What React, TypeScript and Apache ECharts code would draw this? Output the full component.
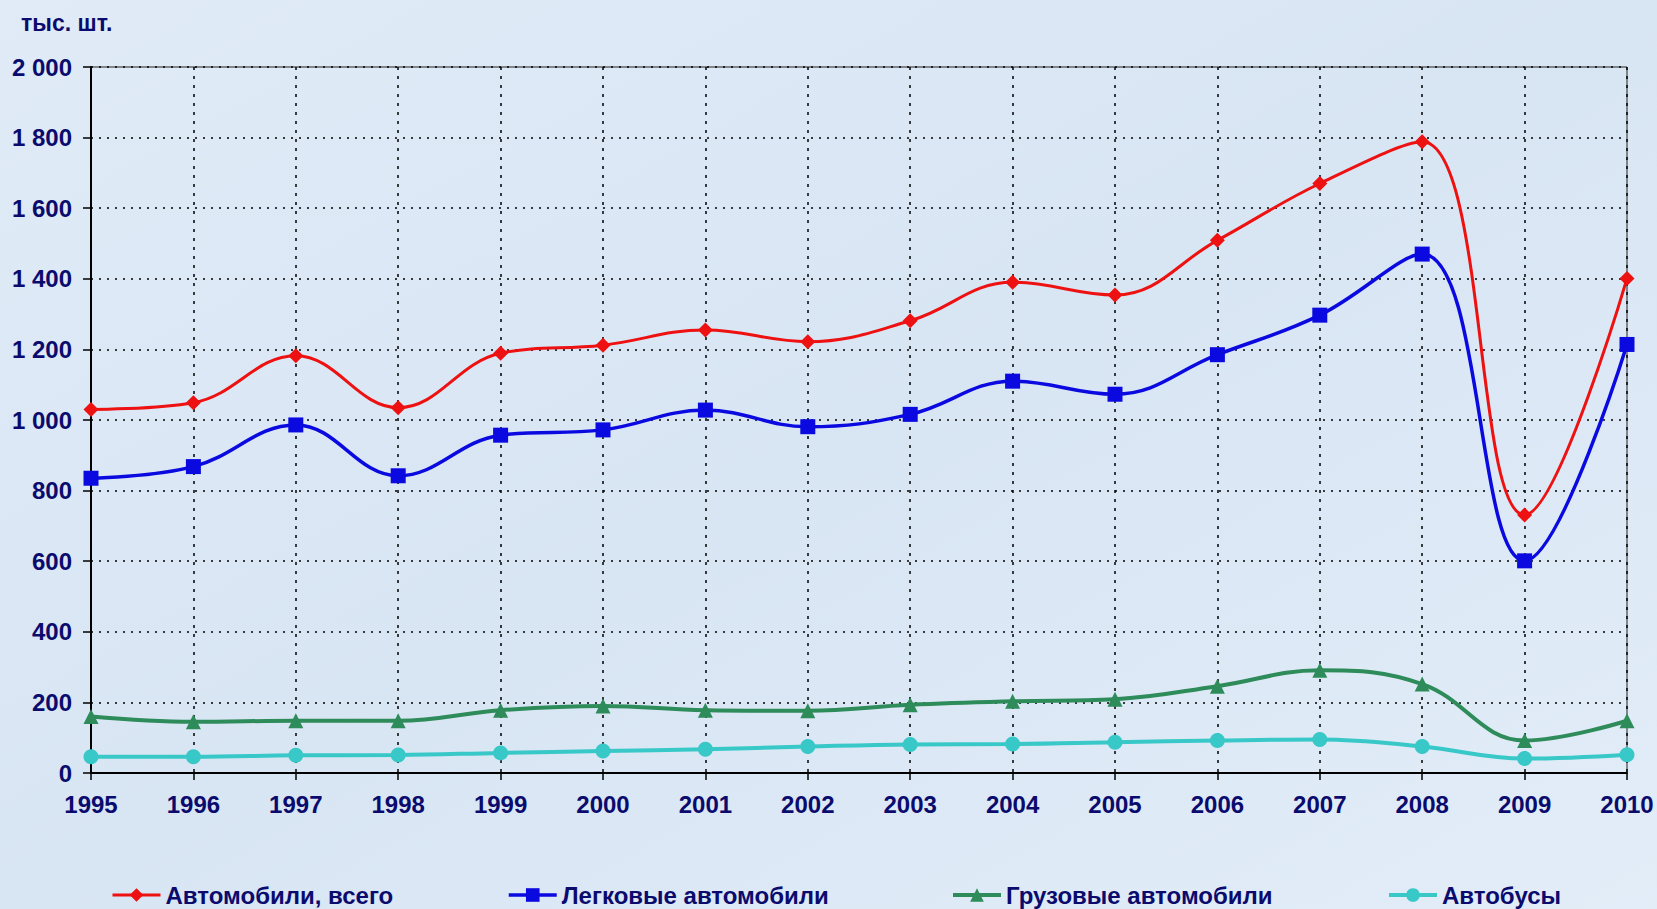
import React, { useEffect, useRef } from "react";
import * as echarts from "echarts";

const years = ["1995","1996","1997","1998","1999","2000","2001","2002","2003","2004","2005","2006","2007","2008","2009","2010"];
const totalCars = [1030, 1049, 1182, 1035, 1189, 1212, 1255, 1222, 1281, 1390, 1354, 1509, 1670, 1788, 731, 1401];
const passengerCars = [835, 868, 986, 842, 957, 972, 1028, 981, 1016, 1110, 1073, 1185, 1297, 1470, 601, 1214];
const trucks = [160, 145, 148, 148, 178, 190, 178, 176, 193, 203, 209, 246, 291, 252, 92, 148];
const buses = [46, 46, 50, 51, 57, 62, 67, 75, 81, 82, 87, 92, 95, 75, 41, 52];
const seriesNames = ["Автомобили, всего", "Легковые автомобили", "Грузовые автомобили", "Автобусы"];
const unitLabel = "тыс. шт.";

const TEXT = "#0b0b6e";
const FONT = "'Liberation Sans', Arial, sans-serif";

export default function App() {
  const ref = useRef<HTMLDivElement>(null);
  useEffect(() => {
    if (!ref.current) return;
    const chart = echarts.init(ref.current, null, { renderer: "svg" });
    const fmt = (v: number) => {
      const s = String(v);
      return v >= 1000 ? s.slice(0, s.length - 3) + " " + s.slice(-3) : s;
    };
    const colors = ["#ee1111", "#0a0ae0", "#2e8b5a", "#38c8c8"];
    const symbols = ["diamond", "rect", "triangle", "circle"];
    const datas = [totalCars, passengerCars, trucks, buses];
    const widths = [3, 3.5, 4, 4];
    const sizes = [15, 15, 15, 15];
    const legendBase = (i: number) => ({
      top: 878,
      itemWidth: 48,
      itemHeight: 17,
      itemGap: 5,
      lineStyle: { width: widths[i] },
      textStyle: { color: TEXT, fontSize: 24, fontWeight: "bold", fontFamily: FONT },
    });
    chart.setOption({
      animation: false,
      backgroundColor: {
        type: "linear", x: 0, y: 0, x2: 1, y2: 1,
        colorStops: [
          { offset: 0, color: "#e0ebf7" },
          { offset: 0.5, color: "#d8e5f3" },
          { offset: 1, color: "#e2edf8" },
        ],
      },
      title: {
        text: unitLabel,
        left: 16,
        top: 6,
        textStyle: { color: TEXT, fontSize: 23, fontWeight: "bold", fontFamily: FONT },
      },
      legend: [
        { ...legendBase(0), left: 106, data: [seriesNames[0]] },
        { ...legendBase(1), left: 502, data: [seriesNames[1]] },
        { ...legendBase(2), left: 946, data: [seriesNames[2]] },
        { ...legendBase(3), left: 1382, data: [seriesNames[3]] },
      ],
      grid: {
        left: 91, top: 67, right: 30, bottom: 136,
        show: true, borderColor: "#222", borderWidth: 1,
        backgroundColor: "transparent",
      },
      xAxis: {
        type: "category",
        data: years,
        boundaryGap: false,
        axisLine: { lineStyle: { color: "#000", width: 2 } },
        axisTick: { show: true, length: 7, lineStyle: { color: "#000", width: 1.5 } },
        axisLabel: { color: TEXT, fontSize: 24, fontWeight: "bold", fontFamily: FONT, margin: 19 },
        splitLine: { show: true, lineStyle: { color: "#000", type: [3, 6], width: 1.5 } },
      },
      yAxis: {
        type: "value",
        min: 0,
        max: 2000,
        interval: 200,
        axisLine: { show: true, lineStyle: { color: "#000", width: 2 } },
        axisTick: { show: true, length: 8, lineStyle: { color: "#000", width: 1.5 } },
        axisLabel: { color: TEXT, fontSize: 24, fontWeight: "bold", fontFamily: FONT, margin: 19, formatter: fmt },
        splitLine: { show: true, lineStyle: { color: "#000", type: [2, 6], width: 1.5 } },
      },
      series: datas.map((d, i) => ({
        name: seriesNames[i],
        type: "line",
        data: d,
        smooth: 0.4,
        symbol: symbols[i],
        symbolSize: sizes[i],
        showSymbol: true,
        color: colors[i],
        lineStyle: { color: colors[i], width: widths[i] },
        itemStyle: { color: colors[i] },
        z: 10 - i,
      })),
    });
    return () => chart.dispose();
  }, []);
  return <div ref={ref} style={{ position: "fixed", left: 0, top: 0, width: 1657, height: 909 }} />;
}
